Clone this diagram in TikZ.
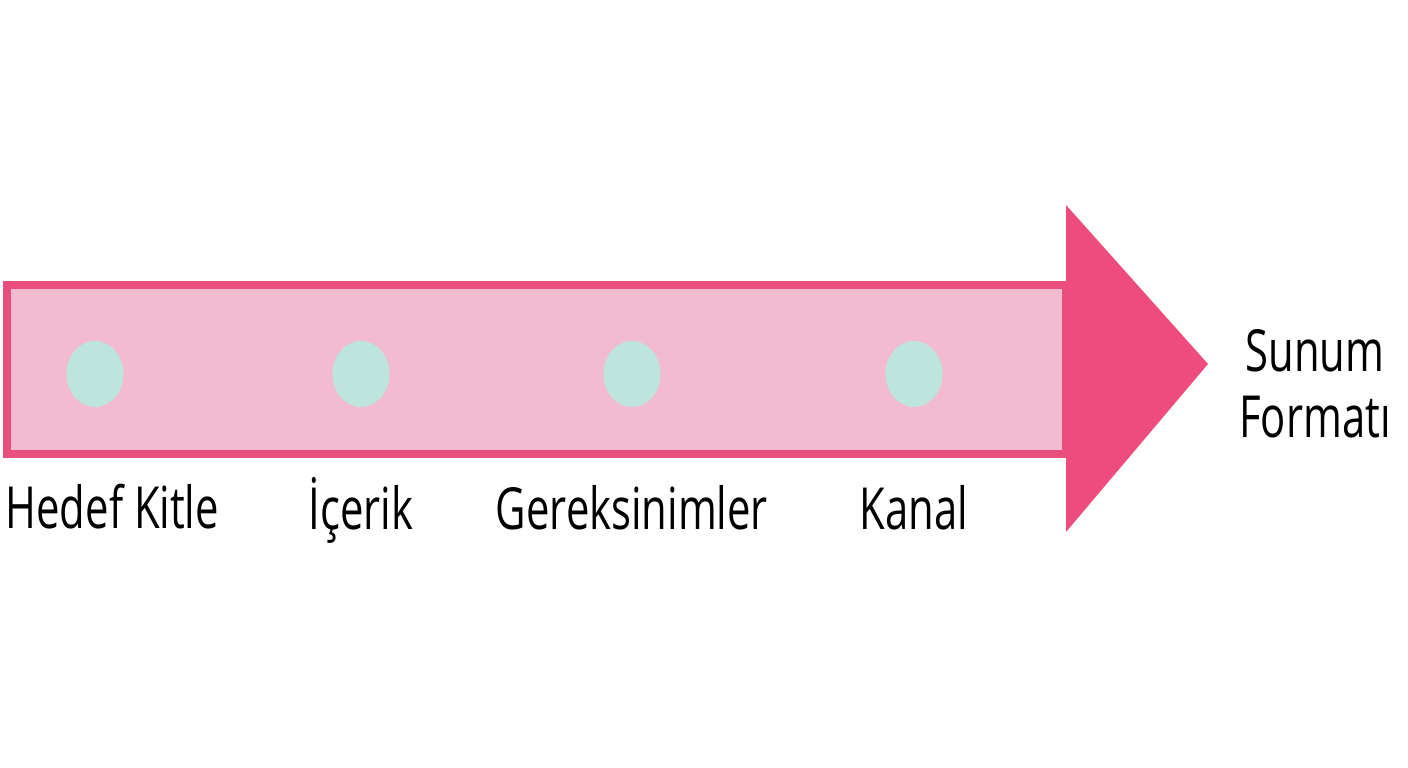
\documentclass[tikz,border=0pt]{standalone}
\usepackage{fontspec}
\setmainfont[FakeStretch=0.72]{Open Sans}
\usetikzlibrary{positioning, shapes.geometric}
\definecolor{barpink}{HTML}{F2BBCF}
\definecolor{edgepink}{HTML}{E94F7D}
\definecolor{headpink}{HTML}{EE4C7E}
\definecolor{dotmint}{HTML}{BDE4DD}
\tikzset{
	x=0.01cm, y=-0.01cm, % one unit is one pixel of the picture
	bar/.style={draw=edgepink, line width=2pt, fill=barpink}, % the body of the arrow
	head/.style={fill=headpink}, % the head of the arrow
	dot/.style={ellipse, fill=dotmint, minimum width=0.57cm, minimum height=0.66cm, inner sep=0pt}, % the marks on the bar
	steptext/.style={font=\fontsize{16.5}{18.8}\selectfont, inner sep=0pt}, % text under and beside the arrow
}

\begin{document}
\begin{tikzpicture}
	\useasboundingbox[fill=white] (0,0) rectangle (1408,768);
	\draw[bar] (7,285) rectangle (1066,454);
	\fill[head] (1066,205) -- (1208,364) -- (1066,532) -- cycle;
			\node[dot] (d1) at (95,374) {};
			\node[dot] (d2) at (361,374) {};
			\node[dot] (d3) at (632,374) {};
			\node[dot] (d4) at (914,374) {};
			\node[steptext, anchor=base west] (l1) at (5,529) {Hedef Kitle};
			\node[steptext, below=1.55cm of d2.center, anchor=base] (l2) {İçerik};
			\node[steptext, below=1.55cm of d3.center, anchor=base] (l3) {Gereksinimler};
			\node[steptext, below=1.55cm of d4.center, anchor=base] (l4) {Kanal};
			\node[steptext, align=center, anchor=base] (end) at (1315,438) {Sunum\\Formatı};
\end{tikzpicture}
\end{document}
